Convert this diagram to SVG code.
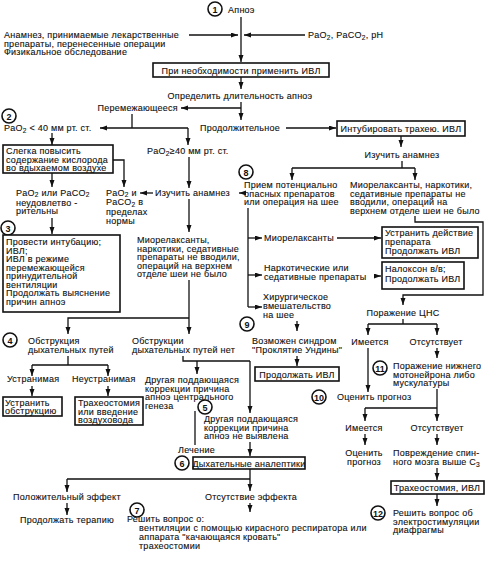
<svg xmlns="http://www.w3.org/2000/svg" width="490" height="561" viewBox="0 0 490 561">
<defs>
<marker id="ar" markerUnits="userSpaceOnUse" markerWidth="8" markerHeight="6" refX="7" refY="2.5" orient="auto">
<path d="M0,0 L7,2.5 L0,5 z" fill="#111"/>
</marker>
<style>
.t{font-family:"Liberation Sans",Arial,sans-serif;font-size:9px;fill:#111;stroke:#111;stroke-width:0.12;letter-spacing:0.25px}
.m{text-anchor:middle}
.e{text-anchor:end}
.s{font-size:6.6px}
.ln{stroke:#111;stroke-width:1.3;fill:none}
.a{stroke:#111;stroke-width:1.3;fill:none;marker-end:url(#ar)}
.bx{stroke:#111;stroke-width:1.6;fill:#fff}
.cc{stroke:#111;stroke-width:1.6;fill:#fff}
.cn{font-family:"Liberation Sans",Arial,sans-serif;font-size:9px;font-weight:bold;fill:#111;text-anchor:middle}
</style>
</defs>
<rect width="490" height="561" fill="#fff"/>

<g id="connectors">
<path class="a" d="M241,17 V62"/>
<path class="a" d="M189,35 H238"/>
<path class="a" d="M305,35 H244"/>
<path class="a" d="M241,77 V89"/>
<path class="ln" d="M241,102 V108"/>
<path class="a" d="M241,108 H181"/>
<path class="a" d="M241,108 V120"/>
<path class="a" d="M286,128 H336"/>
<path class="a" d="M401,136 V147"/>
<path class="ln" d="M402,161 V168 M292,168 H415"/>
<path class="a" d="M292,168 V180"/>
<path class="a" d="M415,168 V180"/>
<path class="ln" d="M132,114 V128"/>
<path class="a" d="M188,128 H100"/>
<path class="a" d="M188,128 V145"/>
<path class="a" d="M52,133 V145"/>
<path class="a" d="M189,157 V188"/>
<path class="a" d="M113,160 H124 V187"/>
<path class="a" d="M52,173 V187"/>
<path class="a" d="M153,193 H140"/>
<path class="a" d="M246,193 H239"/>
<path class="a" d="M52,218 V234"/>
<path class="a" d="M189,199 V232"/>
<path class="a" d="M189,280 V334"/>
<path class="a" d="M189,318 H68 V334"/>
<path class="ln" d="M248,208 V307"/>
<path class="a" d="M248,238 H262"/>
<path class="a" d="M248,275 H262"/>
<path class="a" d="M248,307 H262"/>
<path class="a" d="M337,238 H381"/>
<path class="a" d="M374,276 H381"/>
<path class="a" d="M297,321 V331"/>
<path class="a" d="M297,356 V366"/>
<path class="a" d="M415,216 V222 H483 V295 H403 V305"/>
<path class="ln" d="M403,319 V324 M368,324 H437"/>
<path class="a" d="M368,324 V335"/>
<path class="a" d="M437,324 V335"/>
<path class="a" d="M437,348 V358"/>
<path class="a" d="M368,348 V392"/>
<path class="ln" d="M437,389 V408 M365,408 H437"/>
<path class="a" d="M365,408 V421"/>
<path class="a" d="M437,408 V421"/>
<path class="a" d="M365,434 V445"/>
<path class="a" d="M437,434 V445"/>
<path class="a" d="M437,468 V480"/>
<path class="a" d="M437,494 V506"/>
<path class="ln" d="M68,356 V365 M32,365 H108"/>
<path class="a" d="M32,365 V376"/>
<path class="a" d="M108,365 V376"/>
<path class="a" d="M32,386 V396"/>
<path class="a" d="M108,386 V396"/>
<path class="ln" d="M183,356 V361 H250"/>
<path class="a" d="M197,361 V374"/>
<path class="a" d="M250,361 V413"/>
<path class="ln" d="M195,411 V445"/>
<path class="a" d="M250,442 V456"/>
<path class="ln" d="M250,469 V479 M67,479 H250"/>
<path class="a" d="M67,479 V492"/>
<path class="a" d="M250,479 V491"/>
<path class="a" d="M67,503 V515"/>
<path class="a" d="M250,503 V512"/>
</g>

<g id="n1"><circle class="cc" cx="215" cy="9" r="7"/><text class="cn" x="215" y="12.5">1</text><text class="t" x="228" y="13">Апноэ</text></g>
<g id="anamnesis"><text class="t" x="4" y="38">Анамнез, принимаемые лекарственные</text><text class="t" x="4" y="46.5">препараты, перенесенные операции</text><text class="t" x="4" y="55">Физикальное обследование</text></g>
<g id="gases"><text class="t" x="308" y="38">PaO<tspan class="s" dy="2">2</tspan><tspan dy="-2">, PaCO</tspan><tspan class="s" dy="2">2</tspan><tspan dy="-2">, pH</tspan></text></g>
<g id="ivl1"><rect class="bx" x="153" y="63" width="176" height="14"/><text class="t m" x="241" y="73.5">При необходимости применить ИВЛ</text></g>
<g id="duration"><text class="t m" x="240" y="99">Определить длительность апноэ</text></g>
<g id="intermittent"><text class="t e" x="178" y="111">Перемежающееся</text></g>
<g id="prolonged"><text class="t" x="200" y="131">Продолжительное</text></g>
<g id="intubate"><rect class="bx" x="337" y="121" width="128" height="15"/><text class="t m" x="401" y="131.5">Интубировать трахею. ИВЛ</text></g>
<g id="study1"><text class="t m" x="402" y="158">Изучить анамнез</text></g>

<g id="n2"><circle class="cc" cx="9" cy="116" r="7"/><text class="cn" x="9" y="119.5">2</text><text class="t" x="4" y="131">PaO<tspan class="s" dy="2">2</tspan><tspan dy="-2"> &lt; 40 мм рт. ст.</tspan></text></g>
<g id="pao2ge"><text class="t" x="147" y="154">PaO<tspan class="s" dy="2">2</tspan><tspan dy="-2">≥40 мм рт. ст.</tspan></text></g>
<g id="oxygen"><rect class="bx" x="3" y="145" width="110" height="28"/><text class="t" x="6" y="154">Слегка повысить</text><text class="t" x="6" y="162.5">содержание кислорода</text><text class="t" x="6" y="171">во вдыхаемом воздухе</text></g>
<g id="unsat"><text class="t" x="16" y="195.5">PaO<tspan class="s" dy="1.5">2</tspan><tspan dy="-1.5"> или PaCO</tspan><tspan class="s" dy="1.5">2</tspan></text><text class="t" x="16" y="205.5">неудовлетво -</text><text class="t" x="16" y="214">рительны</text></g>
<g id="normal"><text class="t" x="106" y="195.5">PaO<tspan class="s" dy="1.5">2</tspan><tspan dy="-1.5"> и</tspan></text><text class="t" x="106" y="205">PaCO<tspan class="s" dy="1.5">2</tspan><tspan dy="-1.5"> в</tspan></text><text class="t" x="106" y="215">пределах</text><text class="t" x="106" y="223.5">нормы</text></g>
<g id="study2"><text class="t" x="155" y="196">Изучить анамнез</text></g>
<g id="n3"><circle class="cc" cx="8" cy="228" r="7"/><text class="cn" x="8" y="231.5">3</text><rect class="bx" x="3" y="235" width="117" height="77"/><text class="t" x="6" y="245">Провести интубацию;</text><text class="t" x="6" y="253.5">ИВЛ;</text><text class="t" x="6" y="262">ИВЛ в режиме</text><text class="t" x="6" y="270.5">перемежающейся</text><text class="t" x="6" y="279">принудительной</text><text class="t" x="6" y="287.5">вентиляции</text><text class="t" x="6" y="296">Продолжать выяснение</text><text class="t" x="6" y="304.5">причин апноэ</text></g>
<g id="nodrugs1"><text class="t" x="137" y="243">Миорелаксанты,</text><text class="t" x="137" y="251.5">наркотики, седативные</text><text class="t" x="137" y="260">препараты не вводили,</text><text class="t" x="137" y="268.5">операций на верхнем</text><text class="t" x="137" y="277">отделе шеи не было</text></g>

<g id="n8"><circle class="cc" cx="246" cy="172" r="7"/><text class="cn" x="246" y="175.5">8</text><text class="t" x="244" y="188">Прием потенциально</text><text class="t" x="244" y="196.5">опасных препаратов</text><text class="t" x="244" y="205">или операция на шее</text></g>
<g id="nodrugs2"><text class="t" x="350" y="188">Миорелаксанты, наркотики,</text><text class="t" x="350" y="196.5">седативные препараты не</text><text class="t" x="350" y="205">вводили, операций на</text><text class="t" x="350" y="213.5">верхнем отделе шеи не было</text></g>
<g id="myorelax"><text class="t" x="264" y="241">Миорелаксанты</text></g>
<g id="undo"><rect class="bx" x="382" y="227" width="96" height="31"/><text class="t" x="385" y="236">Устранить действие</text><text class="t" x="385" y="245">препарата</text><text class="t" x="385" y="254">Продолжать ИВЛ</text></g>
<g id="narcotic"><text class="t" x="264" y="271">Наркотические или</text><text class="t" x="264" y="280">седативные препараты</text></g>
<g id="naloxone"><rect class="bx" x="382" y="262" width="82" height="27"/><text class="t" x="385" y="272">Налоксон в/в;</text><text class="t" x="385" y="281.5">Продолжать ИВЛ</text></g>
<g id="surgery"><text class="t" x="263" y="300">Хирургическое</text><text class="t" x="263" y="309">вмешательство</text><text class="t" x="263" y="318">на шее</text></g>
<g id="n9"><circle class="cc" cx="247" cy="324" r="7"/><text class="cn" x="247" y="327.5">9</text><text class="t" x="252" y="344">Возможен синдром</text><text class="t" x="252" y="353">"Проклятие Ундины"</text></g>
<g id="ivl2"><rect class="bx" x="255" y="367" width="84" height="14"/><text class="t m" x="297" y="377.5">Продолжать ИВЛ</text></g>
<g id="cns"><text class="t m" x="403" y="316">Поражение ЦНС</text><text class="t m" x="370" y="345">Имеется</text><text class="t m" x="436" y="345">Отсутствует</text></g>
<g id="n11"><circle class="cc" cx="380" cy="368" r="7"/><text class="cn" x="380" y="371.5">11</text><text class="t" x="393" y="369">Поражение нижнего</text><text class="t" x="393" y="377.5">мотонейрона либо</text><text class="t" x="393" y="386">мускулатуры</text></g>
<g id="n10"><circle class="cc" cx="319" cy="397" r="7"/><text class="cn" x="319" y="400.5">10</text><text class="t" x="337" y="400">Оценить прогноз</text></g>
<g id="branch2"><text class="t m" x="364" y="431">Имеется</text><text class="t m" x="437" y="431">Отсутствует</text><text class="t m" x="364" y="456">Оценить</text><text class="t m" x="364" y="465">прогноз</text><text class="t" x="393" y="456">Повреждение спин-</text><text class="t" x="393" y="465">ного мозга выше C<tspan class="s" dy="2">3</tspan></text></g>
<g id="tracheo"><rect class="bx" x="391" y="481" width="93" height="13"/><text class="t m" x="437" y="491">Трахеостомия, ИВЛ</text></g>
<g id="n12"><circle class="cc" cx="378" cy="513" r="7"/><text class="cn" x="378" y="516.5">12</text><text class="t" x="393" y="516">Решить вопрос об</text><text class="t" x="393" y="524.5">электростимуляции</text><text class="t" x="393" y="533">диафрагмы</text></g>

<g id="n4"><circle class="cc" cx="10" cy="340" r="7"/><text class="cn" x="10" y="343.5">4</text><text class="t" x="28" y="344">Обструкция</text><text class="t" x="28" y="353">дыхательных путей</text></g>
<g id="noobst"><text class="t" x="132" y="344">Обструкции</text><text class="t" x="132" y="353">дыхательных путей нет</text></g>
<g id="removable"><text class="t" x="7" y="382">Устранимая</text><text class="t" x="72" y="382">Неустранимая</text></g>
<g id="remove"><rect class="bx" x="3" y="397" width="59" height="19"/><text class="t" x="5" y="405.5">Устранить</text><text class="t" x="5" y="414">обструкцию</text></g>
<g id="airway"><rect class="bx" x="75" y="397" width="68" height="28"/><text class="t" x="78" y="406">Трахеостомия</text><text class="t" x="78" y="414.5">или введение</text><text class="t" x="78" y="423">воздуховода</text></g>
<g id="central"><text class="t" x="145" y="383">Другая поддающаяся</text><text class="t" x="145" y="391.5">коррекции причина</text><text class="t" x="145" y="400">апноэ центрального</text><text class="t" x="145" y="408.5">генеза</text></g>
<g id="n5"><circle class="cc" cx="205" cy="407" r="7"/><text class="cn" x="205" y="410.5">5</text><text class="t" x="204" y="422">Другая поддающаяся</text><text class="t" x="204" y="430.5">коррекции причина</text><text class="t" x="204" y="439">апноэ не выявлена</text></g>
<g id="treat"><text class="t" x="178" y="453">Лечение</text></g>
<g id="n6"><circle class="cc" cx="182" cy="463" r="7"/><text class="cn" x="182" y="466.5">6</text><rect class="bx" x="193" y="457" width="112" height="12"/><text class="t m" x="249" y="466.5">Дыхательные аналептики</text></g>
<g id="positive"><text class="t" x="13" y="500">Положительный эффект</text><text class="t" x="20" y="523">Продолжать терапию</text></g>
<g id="noeffect"><text class="t m" x="251" y="500">Отсутствие эффекта</text></g>
<g id="n7"><circle class="cc" cx="137" cy="510" r="7"/><text class="cn" x="137" y="513.5">7</text><text class="t" x="127" y="522">Решить вопрос о:</text><text class="t" x="139" y="531">вентиляции с помощью кирасного респиратора или</text><text class="t" x="139" y="540">аппарата "качающаяся кровать"</text><text class="t" x="139" y="549">трахеостомии</text></g>
</svg>
